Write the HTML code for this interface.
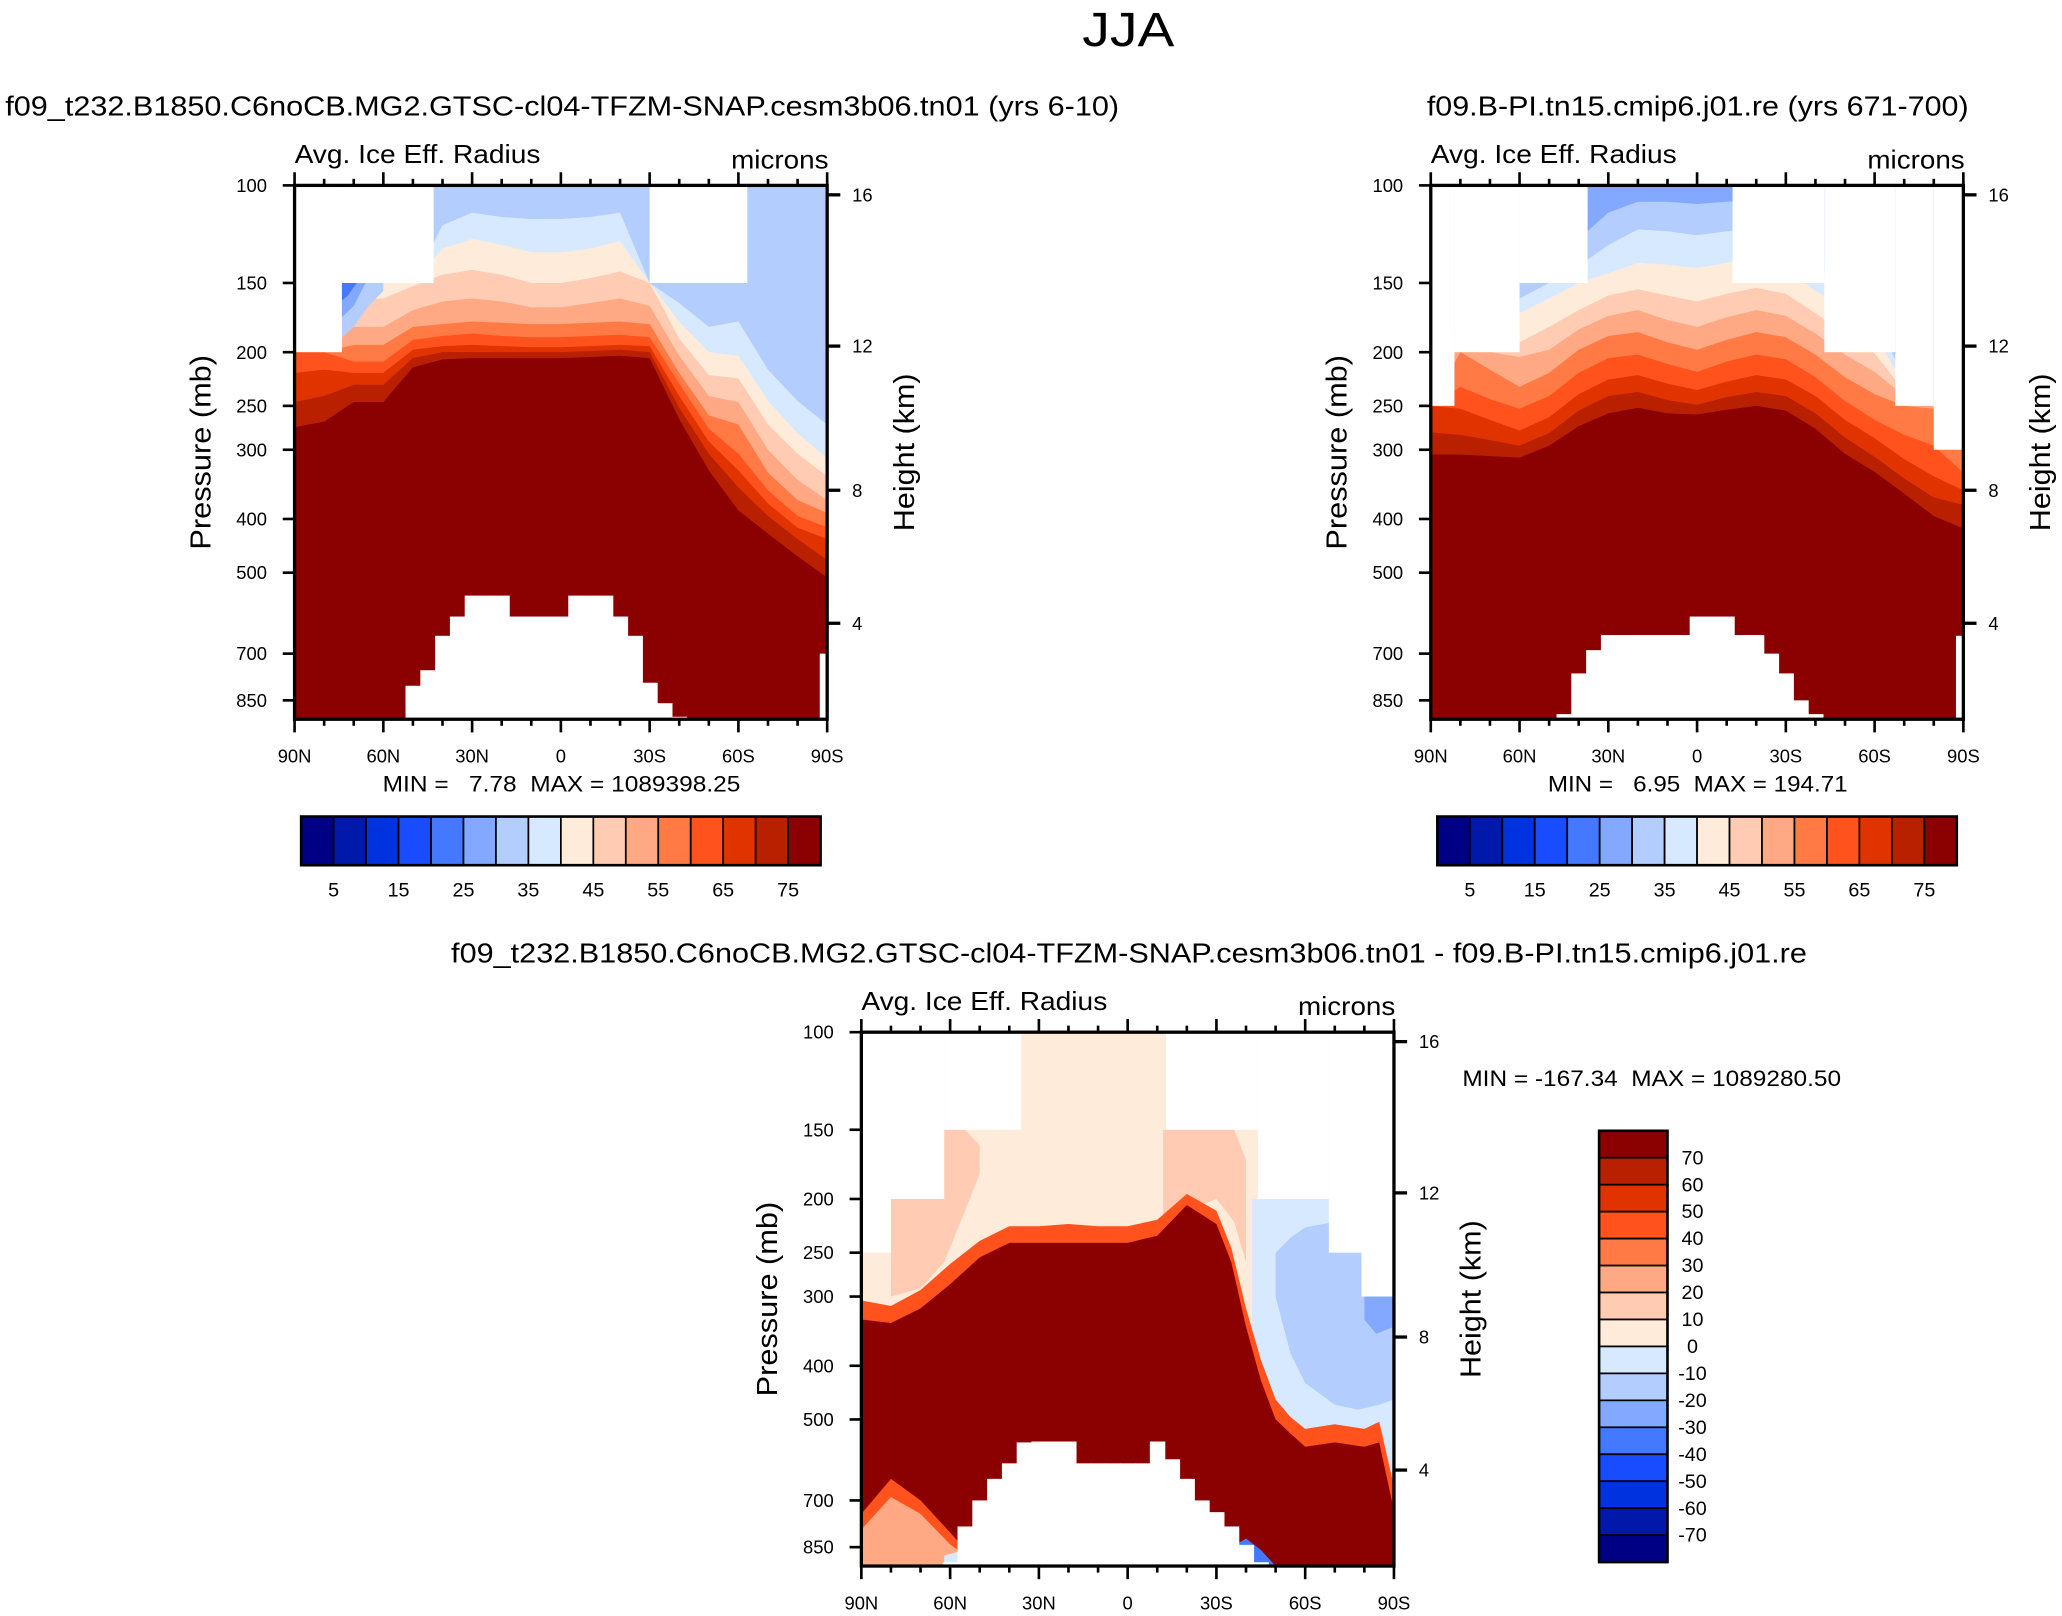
<!DOCTYPE html>
<html><head><meta charset="utf-8">
<style>
html,body{margin:0;padding:0;background:#fff;}
svg{display:block;font-family:"Liberation Sans",Arial,sans-serif;}
</style></head>
<body>
<svg id="fig" xmlns="http://www.w3.org/2000/svg" width="2062" height="1616" viewBox="0 0 1568 1229" preserveAspectRatio="none">
<rect x="0" y="0" width="1568" height="1229" fill="#fff"/>
<text x="823" y="35" font-size="37" textLength="70" lengthAdjust="spacingAndGlyphs">JJA</text>
<text x="4" y="88" font-size="21" textLength="847" lengthAdjust="spacingAndGlyphs">f09_t232.B1850.C6noCB.MG2.GTSC-cl04-TFZM-SNAP.cesm3b06.tn01 (yrs 6-10)</text>
<text x="1085" y="88" font-size="21" textLength="412" lengthAdjust="spacingAndGlyphs">f09.B-PI.tn15.cmip6.j01.re (yrs 671-700)</text>
<text x="343" y="732" font-size="21" textLength="1031" lengthAdjust="spacingAndGlyphs">f09_t232.B1850.C6noCB.MG2.GTSC-cl04-TFZM-SNAP.cesm3b06.tn01 - f09.B-PI.tn15.cmip6.j01.re</text>
<g id="p1"></g>
<g id="p2"></g>
<g id="p3"></g>
</svg>
<script>
// ---------- data ----------
const palette = ['#000085','#0019ab','#0032e0','#1a4cff','#4479ff','#82a8ff','#b3cdff','#d6e9ff','#ffebd9','#ffccb3','#ffa984','#ff7a44','#ff521c','#e13300','#b82000','#8b0000'];
const lats10 = [90,80,70,60,50,40,30,20,10,0,-10,-20,-30,-40,-50,-60,-70,-80,-90];
const lats5 = [90,85,80,75,70,65,60,55,50,45,40,35,30,25,20,15,10,5,0,-5,-10,-15,-20,-25,-30,-35,-40,-45,-50,-55,-60,-65,-70,-75,-80,-85,-90];
const pressureTicks = [100,150,200,250,300,400,500,700,850];
const heightTickLabels = [16,12,8,4];
const heightTickPressure = [104,195,355,617];
const xTickLabels = ['90N','60N','30N','0','30S','60S','90S'];
const xTickLats = [90,60,30,0,-30,-60,-90];
const cbLabelsH = [5,15,25,35,45,55,65,75];
const cbLabelsV = [70,60,50,40,30,20,10,0,-10,-20,-30,-40,-50,-60,-70];

// panel 1 band tops (mb) per 10deg lat
const p1Band7  = [200,200,150,150,150,118,112,114,115,115,114,112,150,163,180,176,215,245,270];
const p1Band8  = [200,200,150,150,150,130,125,128,132,132,130,126,150,176,200,203,245,280,311];
const p1Band9  = [200,200,160,160,152,145,142,145,150,150,147,143,150,189,220,223,270,305,335];
const p1Band10 = [200,200,180,180,168,162,160,162,166,166,163,160,165,203,240,246,300,340,370];
const p1Band11 = [200,200,194,194,180,178,176,177,178,178,177,176,178,218,260,270,330,370,390];
const p1Band12 = [200,200,208,208,190,187,185,187,188,188,187,186,188,228,275,305,355,395,414];
const p1Band13 = [218,215,218,218,198,195,194,195,196,196,195,194,195,240,290,327,375,415,435];
const p1Band14 = [246,240,229,229,205,200,200,200,200,200,199,198,200,252,305,351,395,435,474];
const p1Band15 = [273,267,246,246,213,206,205,205,205,205,204,203,205,264,327,386,425,467,510];
const p1MaskEdges = [90,74,43,-30,-63,-90];
const p1MaskTop = [200,150,100,150,100];
const p1Surface = [921,921,921,921,921,921,921,921,800,750,650,600,550,550,550,600,600,600,600,550,550,550,600,650,790,860,910,921,921,921,921,921,921,921,921,921,700];

// panel 2
const p2Band6  = [250,170,200,150,150,125,112,107,107,108,107,106,115,140,150,165,220,250,300];
const p2Band7  = [250,175,200,160,150,140,128,120,121,123,121,120,128,145,155,170,225,250,300];
const p2Band8  = [250,180,200,170,160,150,144,138,139,141,138,136,142,155,165,185,230,250,300];
const p2Band9  = [250,185,200,192,180,168,158,154,158,162,157,153,157,170,185,201,235,250,300];
const p2Band10 = [250,190,200,204,198,182,172,168,175,180,173,168,172,185,202,217,240,250,300];
const p2Band11 = [250,200,215,231,218,198,187,184,192,198,190,184,188,202,222,238,250,253,300];
const p2Band12 = [250,231,243,253,240,218,205,202,210,217,208,202,206,222,245,265,282,295,330];
const p2Band13 = [250,253,265,277,262,238,224,220,228,234,226,220,224,240,265,286,312,335,355];
const p2Band14 = [279,282,288,295,280,255,240,236,244,249,241,236,240,258,285,309,338,366,377];
const p2Band15 = [306,306,308,310,295,272,258,252,258,259,254,250,255,275,305,329,360,395,416];
const p2MaskEdges = [90,82,60,37,-12,-43,-67,-80,-90];
const p2MaskTop = [250,200,150,100,150,200,250,300];
const p2Surface = [921,921,921,921,921,921,921,921,921,900,760,690,648,648,648,648,648,648,600,600,600,648,648,700,760,850,900,921,921,921,921,921,921,921,921,921,650];

// panel 3 (difference)
const p3PeachNLats = [80,70,62,55,50];
const p3PeachNTop = [200,200,150,150,160];
const p3PeachNBot = [300,290,260,210,180];
const p3PeachSLats = [-12,-20,-30,-36,-40];
const p3PeachSTop = [150,150,150,150,170];
const p3PeachSBot = [240,210,200,220,260];
const p3Blue1Lats = [-42,-45,-50,-60,-70,-80,-90];
const p3Blue1Top = [200,200,200,200,200,250,300];
const p3Blue1Bot = [420,470,520,560,600,650,700];
const p3Blue2Lats = [-50,-55,-60,-70,-78,-85,-90];
const p3Blue2Top = [250,235,225,220,240,280,300];
const p3Blue2Bot = [300,380,430,470,480,470,460];
const p3Blue3Lats = [-80,-84,-90];
const p3Blue3Top = [300,290,300];
const p3Blue3Bot = [330,350,340];
const p3RedLats = [90,80,70,60,50,40,30,20,10,0,-10,-20,-30,-35,-40,-45,-50,-55,-60,-70,-80,-85,-90];
const p3RedTop = [330,335,315,285,255,240,240,240,240,240,233,205,222,260,340,425,500,530,560,550,560,550,730];
const p3RedBot = [740,640,700,800,921,921,921,921,921,921,921,921,921,921,921,921,921,921,921,921,921,921,921];
const p3FringeTop = [305,312,292,262,238,224,224,222,224,224,218,196,210,245,315,390,460,495,520,510,520,505,660];
const p3FringeBot = [790,690,740,840,921,921,921,921,921,921,921,921,921,921,921,921,921,921,921,921,921,921,921];
const p3LowNLats = [90,80,70,60,55];
const p3LowNTop = [700,620,680,760,800];
const p3LowNBot = [921,921,921,921,921];
const p3LowBlueLats = [-30,-35,-40,-45,-50];
const p3LowBlueTop = [900,850,820,860,921];
const p3LowBlueBot = [921,921,921,921,921];
const p3LowPaleLats = [62,55,50];
const p3LowPaleTop = [880,860,900];
const p3LowPaleBot = [921,921,921];
const p3MaskEdges = [90,80,62,36,-13,-44,-68,-79,-90];
const p3MaskTop = [250,200,150,100,150,200,250,300];
const p3Surface = [921,921,921,921,921,921,905,780,700,640,600,550,548,548,548,600,600,600,600,600,548,590,640,700,735,780,842,905,921,921,921,921,921,921,921,921,921];

// ---------- drawing ----------
const NS = 'http://www.w3.org/2000/svg';
const W = 405, H = 406, K = 183, PBOT = 921;
function mk(tag, attrs, parent){ const e=document.createElementNS(NS,tag); for(const k in attrs) e.setAttribute(k,attrs[k]); if(parent) parent.appendChild(e); return e; }

function panel(gid, L, T, cfg){
  const g = document.getElementById(gid);
  const xS = lat => L + (90-lat)/180*W;
  const yS = p => Math.min(T + K*Math.log(p/100), T+H);
  const cid = gid+'clip';
  const cp = mk('clipPath',{id:cid},g);
  mk('rect',{x:L,y:T,width:W,height:H},cp);
  const field = mk('g',{'clip-path':'url(#'+cid+')'},g);
  
  
  const base = mk('rect',{x:L,y:T,width:W,height:H,fill:palette[cfg.base]},field);
  
  
  cfg.layers.forEach(ly=>{
    const pts=[];
    ly.lats.forEach((l,i)=>pts.push(xS(l).toFixed(1)+','+yS(ly.top[i]).toFixed(1)));
    for(let i=ly.lats.length-1;i>=0;i--){ pts.push(xS(ly.lats[i]).toFixed(1)+','+(ly.bot? yS(ly.bot[i]):T+H+5).toFixed(1)); }
    const poly = mk('polygon',{points:pts.join(' '),fill:palette[ly.c]},field);
    
    
  });
  for(let i=0;i<cfg.maskTop.length;i++){
    const x1=xS(cfg.maskEdges[i]), x2=xS(cfg.maskEdges[i+1]);
    const r = mk('rect',{x:x1,y:T,width:x2-x1,height:yS(cfg.maskTop[i])-T,fill:'#fff'},field);
    
    
  }
  lats5.forEach((l,i)=>{
    const s=cfg.surf[i]; if(s>=PBOT) return;
    const x1=xS(Math.min(90,l+2.5)), x2=xS(Math.max(-90,l-2.5));
    const r = mk('rect',{x:x1,y:yS(s),width:x2-x1+0.5,height:T+H-yS(s),fill:'#fff'},field);
    
    
  });
  const fr = mk('rect',{x:L,y:T,width:W,height:H,fill:'none',stroke:'#000','stroke-width':2.5},g);
  
  
  for(let lat=90;lat>=-90;lat-=10){
    const major = lat%30===0, len = major?10:5, x=xS(lat);
    mk('line',{x1:x,y1:T,x2:x,y2:T-len,stroke:'#000','stroke-width':2},g);
    mk('line',{x1:x,y1:T+H,x2:x,y2:T+H+len,stroke:'#000','stroke-width':2},g);
  }
  xTickLabels.forEach((s,i)=>{
    const t=mk('text',{x:xS(xTickLats[i]),y:T+H+33,'font-size':14,'text-anchor':'middle'},g); t.textContent=s;
    
    
  });
  pressureTicks.forEach(p=>{
    const y=yS(p);
    mk('line',{x1:L,y1:y,x2:L-9,y2:y,stroke:'#000','stroke-width':2},g);
    const t=mk('text',{x:L-21,y:y+5,'font-size':14,'text-anchor':'end'},g); t.textContent=p;
    
    
  });
  heightTickLabels.forEach((h,i)=>{
    const y=yS(heightTickPressure[i]);
    mk('line',{x1:L+W,y1:y,x2:L+W+10,y2:y,stroke:'#000','stroke-width':2.5},g);
    const t=mk('text',{x:L+W+19,y:y+5,'font-size':14},g); t.textContent=h;
    
    
  });
  const cy=T+H/2;
  let t=mk('text',{x:0,y:0,'font-size':22,'text-anchor':'middle',textLength:148,lengthAdjust:'spacingAndGlyphs',transform:`translate(${L-64},${cy}) rotate(-90)`},g); t.textContent='Pressure (mb)';
  
  
  t=mk('text',{x:0,y:0,'font-size':22,'text-anchor':'middle',textLength:120,lengthAdjust:'spacingAndGlyphs',transform:`translate(${L+W+66},${cy}) rotate(-90)`},g); t.textContent='Height (km)';
  
  
  t=mk('text',{x:L,y:T-17,'font-size':20,textLength:187,lengthAdjust:'spacingAndGlyphs'},g); t.textContent='Avg. Ice Eff. Radius';
  
  
  t=mk('text',{x:L+W-73,y:T-13,'font-size':20,textLength:74,lengthAdjust:'spacingAndGlyphs'},g); t.textContent='microns';
  
  
  return g;
}

function hbar(g, L, T){
  const bw=395/16;
  palette.forEach((c,i)=>{
    const r=mk('rect',{x:L+i*bw,y:T,width:bw,height:37,fill:c,stroke:'#000','stroke-width':1.3},g);
    
    
  });
  mk('rect',{x:L,y:T,width:395,height:37,fill:'none',stroke:'#000','stroke-width':2},g);
  cbLabelsH.forEach((v,i)=>{
    const t=mk('text',{x:L+(2*i+1)*bw,y:T+61,'font-size':15,'text-anchor':'middle'},g); t.textContent=v;
    
    
  });
}
function minmax(g, x, y, w, str){
  const t=mk('text',{x:x,y:y,'font-size':17,textLength:w,lengthAdjust:'spacingAndGlyphs',style:'white-space:pre'},g); t.textContent=str;
  
  
}

const p1 = panel('p1',224,141,{base:6,maskEdges:p1MaskEdges,maskTop:p1MaskTop,surf:p1Surface,layers:[
  {c:7,lats:lats10,top:p1Band7},{c:8,lats:lats10,top:p1Band8},{c:9,lats:lats10,top:p1Band9},
  {c:10,lats:lats10,top:p1Band10},{c:11,lats:lats10,top:p1Band11},{c:12,lats:lats10,top:p1Band12},
  {c:13,lats:lats10,top:p1Band13},{c:14,lats:lats10,top:p1Band14},{c:15,lats:lats10,top:p1Band15},
  {c:6,lats:[75,70,65,60],top:[150,150,150,150],bot:[190,180,165,155]},
  {c:5,lats:[75,70,66],top:[150,150,150],bot:[175,165,150]},
  {c:4,lats:[75,72,69],top:[150,150,150],bot:[163,158,150]}
]});
minmax(p1,291,602,272,'MIN =   7.78  MAX = 1089398.25');
hbar(p1,229,621);

const p2 = panel('p2',1088,141,{base:5,maskEdges:p2MaskEdges,maskTop:p2MaskTop,surf:p2Surface,layers:[
  {c:6,lats:lats10,top:p2Band6},{c:7,lats:lats10,top:p2Band7},{c:8,lats:lats10,top:p2Band8},
  {c:9,lats:lats10,top:p2Band9},{c:10,lats:lats10,top:p2Band10},{c:11,lats:lats10,top:p2Band11},
  {c:12,lats:lats10,top:p2Band12},{c:13,lats:lats10,top:p2Band13},{c:14,lats:lats10,top:p2Band14},
  {c:15,lats:lats10,top:p2Band15}
]});
minmax(p2,1177,602,228,'MIN =   6.95  MAX = 194.71');
hbar(p2,1093,621);

const p3 = panel('p3',655,785,{base:8,maskEdges:p3MaskEdges,maskTop:p3MaskTop,surf:p3Surface,layers:[
  {c:9,lats:p3PeachNLats,top:p3PeachNTop,bot:p3PeachNBot},
  {c:9,lats:p3PeachSLats,top:p3PeachSTop,bot:p3PeachSBot},
  {c:7,lats:p3Blue1Lats,top:p3Blue1Top,bot:p3Blue1Bot},
  {c:6,lats:p3Blue2Lats,top:p3Blue2Top,bot:p3Blue2Bot},
  {c:5,lats:p3Blue3Lats,top:p3Blue3Top,bot:p3Blue3Bot},
  {c:10,lats:p3LowNLats,top:p3LowNTop,bot:p3LowNBot},
  {c:7,lats:p3LowPaleLats,top:p3LowPaleTop,bot:p3LowPaleBot},
  {c:12,lats:p3RedLats,top:p3FringeTop,bot:p3FringeBot},
  {c:15,lats:p3RedLats,top:p3RedTop,bot:p3RedBot},
  {c:4,lats:p3LowBlueLats,top:p3LowBlueTop,bot:p3LowBlueBot}
]});
minmax(p3,1112,826,288,'MIN = -167.34  MAX = 1089280.50');
const vb=mk('g',{},p3);


const bh=328/16;
palette.slice().reverse().forEach((c,i)=>{
  const r=mk('rect',{x:1216,y:860+i*bh,width:52,height:bh,fill:c,stroke:'#000','stroke-width':1.3},vb);
  
  
});
mk('rect',{x:1216,y:860,width:52,height:328,fill:'none',stroke:'#000','stroke-width':2},vb);
cbLabelsV.forEach((v,i)=>{
  const tt=mk('text',{x:1287,y:860+(i+1)*bh+5,'font-size':15,'text-anchor':'middle'},vb); tt.textContent=v;
  
  
});
</script>
</body></html>
